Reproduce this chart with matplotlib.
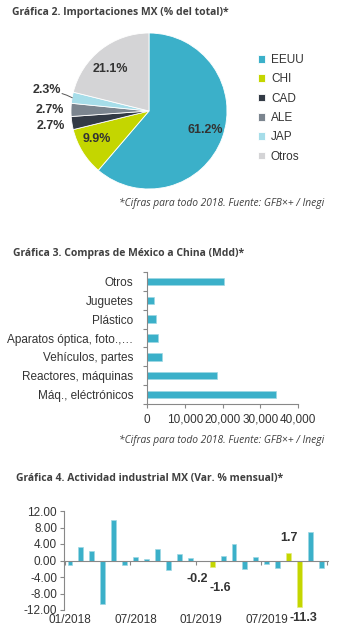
import numpy as np
import matplotlib
matplotlib.use("Agg")
import matplotlib.pyplot as plt

# ---- data ----
pie_labels = ["EEUU", "CHI", "CAD", "ALE", "JAP", "Otros"]
pie_values = [61.2, 9.9, 2.7, 2.7, 2.3, 21.1]
pie_colors = ["#3BB0C9", "#C4D600", "#323A45", "#7B858F", "#A6DDE9", "#D4D4D6"]

china_cats = ["Máq., eléctrónicos", "Reactores, máquinas", "Vehículos, partes",
              "Aparatos óptica, foto.,…", "Plástico", "Juguetes", "Otros"]
china_vals = [34100, 18500, 3850, 3000, 2300, 1750, 20300]

act_vals = [-1.2, 3.2, 2.2, -10.5, 9.9, -1.1, 0.9, 0.3, 2.7, -2.4, 1.6, 0.7,
            -0.2, -1.6, 1.2, 3.9, -2.1, 0.8, -0.9, -1.9, 1.7, -11.3, 7.0, -1.9]
act_highlight = [12, 13, 20, 21]
act_ticklabels = ["01/2018", "07/2018", "01/2019", "07/2019"]

W, H = 337, 637
CYAN = "#3BB0C9"
GREEN = "#C4D600"
TXT = "#333333"
TITLE = "#404040"
SANS = "Liberation Sans"
TFONT = "Open Sans"

fig = plt.figure(figsize=(W / 100, H / 100), dpi=100)
fig.patch.set_facecolor("white")


def px_axes(l, t, r, b):
    return fig.add_axes([l / W, 1 - b / H, (r - l) / W, (b - t) / H])


def title(x, y, s):
    fig.text(x / W, 1 - y / H, s, fontsize=7.5, fontweight="bold",
             family=TFONT, color=TITLE, va="center", ha="left")


def foot(x, y, s):
    fig.text(x / W, 1 - y / H, s, fontsize=7.4, style="italic",
             family=TFONT, color=TITLE, va="center", ha="right")


# ---- Gráfica 2: pie ----
title(12, 12, "Gráfica 2. Importaciones MX (% del total)*")
ax1 = px_axes(71, 33, 227, 189)
wedges, _ = ax1.pie(pie_values, colors=pie_colors, startangle=90,
                    counterclock=False, radius=1,
                    wedgeprops=dict(edgecolor="white", linewidth=0.6))
ax1.set_xlim(-1, 1)
ax1.set_ylim(-1, 1)
ax1.set_aspect("equal")
lab_r = [0.76, 0.76, 1.28, 1.27, 1.34, 0.73]
lab_shift = [1.5, -3, 0, 0, -2, 5]
for w, v, r, sh in zip(wedges, pie_values, lab_r, lab_shift):
    ang = np.deg2rad((w.theta1 + w.theta2) / 2 + sh)
    ax1.text(r * np.cos(ang), r * np.sin(ang), f"{v:.1f}%", ha="center",
             va="center", fontsize=9, fontweight="bold", family=SANS, color=TXT)
# leader line for JAP
wj = wedges[4]
aj = np.deg2rad((wj.theta1 + wj.theta2) / 2)
ax1.plot([np.cos(aj) * 1.0, np.cos(aj) * 1.07, np.cos(aj) * 1.13],
         [np.sin(aj) * 1.0, np.sin(aj) * 1.07 + 0.02, np.sin(aj) * 1.13 + 0.03],
         color="#555555", lw=0.7, clip_on=False)
leg = ax1.legend(wedges, pie_labels, loc="upper left",
                 bbox_to_anchor=(258 / W, 1 - 54 / H),
                 bbox_transform=fig.transFigure, frameon=False,
                 prop=dict(family=SANS, size=8.5), handlelength=0.6,
                 handleheight=0.6, handletextpad=0.5, labelspacing=0.62,
                 borderaxespad=0, borderpad=0)
for t in leg.get_texts():
    t.set_color(TXT)
foot(324, 203, "*Cifras para todo 2018. Fuente: GFB×+ / Inegi")

# ---- Gráfica 3: horizontal bars ----
title(13, 253, "Gráfica 3. Compras de México a China (Mdd)*")
ax2 = px_axes(147, 272, 298, 404)
y = np.arange(len(china_cats))
ax2.barh(y, china_vals, height=0.4, color=CYAN, edgecolor="#9ED8E4", lw=0.5)
ax2.set_xlim(0, 40000)
ax2.set_ylim(-0.5, len(china_cats) - 0.5)
ax2.set_xticks([0, 10000, 20000, 30000, 40000])
ax2.set_xticklabels([f"{v:,}" for v in [0, 10000, 20000, 30000, 40000]])
ax2.set_yticks(y)
ax2.set_yticklabels(china_cats)
ax2.set_yticks(np.arange(-0.5, len(china_cats)), minor=True)
ax2.tick_params(axis="y", which="major", length=0, pad=10)
ax2.tick_params(axis="y", which="minor", length=3, color="#888888", width=0.8)
ax2.tick_params(axis="x", length=3, color="#888888", width=0.8, pad=4)
for s in ["top", "right"]:
    ax2.spines[s].set_visible(False)
for s in ["left", "bottom"]:
    ax2.spines[s].set_color("#888888")
    ax2.spines[s].set_linewidth(0.8)
for lbl in ax2.get_xticklabels() + ax2.get_yticklabels():
    lbl.set_family(SANS)
    lbl.set_fontsize(8.5)
    lbl.set_color(TXT)
foot(324, 440, "*Cifras para todo 2018. Fuente: GFB×+ / Inegi")

# ---- Gráfica 4: monthly bars ----
title(16, 478, "Gráfica 4. Actividad industrial MX (Var. % mensual)*")
ax3 = px_axes(64, 511, 328, 610)
x = np.arange(len(act_vals))
cols = [GREEN if i in act_highlight else CYAN for i in x]
ax3.bar(x, act_vals, width=0.45, color=cols, edgecolor=[
        "#E4EC80" if i in act_highlight else "#9ED8E4" for i in x], lw=0.5)
ax3.set_xlim(-0.55, 23.6)
ax3.set_ylim(-12, 12)
ax3.set_yticks(np.arange(-12, 13, 4))
ax3.set_yticklabels([f"{v:.2f}" for v in np.arange(-12, 13, 4)])
ax3.spines["bottom"].set_position(("data", 0))
ax3.set_xticks(np.arange(-0.5, 24, 6))
ax3.set_xticklabels([])
ax3.tick_params(axis="x", length=3, color="#888888", width=0.8)
ax3.tick_params(axis="y", length=3, color="#888888", width=0.8, pad=2)
for s in ["top", "right"]:
    ax3.spines[s].set_visible(False)
for s in ["left", "bottom"]:
    ax3.spines[s].set_color("#888888")
    ax3.spines[s].set_linewidth(0.8)
for lbl in ax3.get_yticklabels():
    lbl.set_family(SANS)
    lbl.set_fontsize(8.5)
    lbl.set_color(TXT)
sec = ax3.secondary_xaxis("bottom")
sec.set_xticks(np.arange(0, 24, 6))
sec.set_xticklabels(act_ticklabels, family=SANS, fontsize=8.5, color=TXT)
sec.tick_params(length=0, pad=3)
sec.spines["bottom"].set_visible(False)
offsets = {12: (-3, -13), 13: (6, -15), 20: (0, 11), 21: (3, -8)}
for i in act_highlight:
    v = act_vals[i]
    dx, dy = offsets[i]
    ax3.annotate(f"{v:.1f}", (i, v), xytext=(dx, dy), textcoords="offset points",
                 ha="center", va="center", fontsize=9, fontweight="bold",
                 family=SANS, color=TXT)

fig.savefig("out.png", dpi=100)
